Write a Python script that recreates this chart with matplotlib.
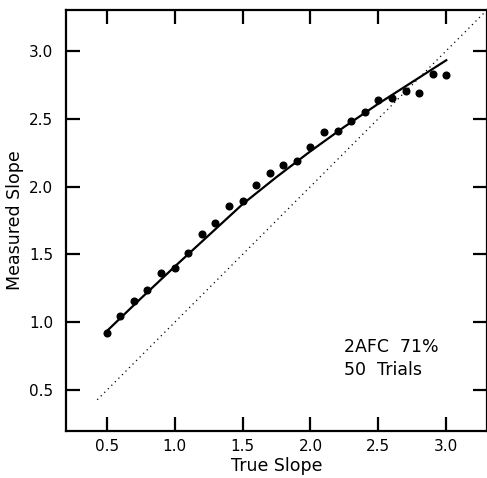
import numpy as np
import matplotlib.pyplot as plt

# measured points (true slope vs measured slope)
true_slope = [0.5, 0.6, 0.7, 0.8, 0.9, 1.0, 1.1, 1.2, 1.3, 1.4, 1.5, 1.6, 1.7,
              1.8, 1.9, 2.0, 2.1, 2.2, 2.3, 2.4, 2.5, 2.6, 2.7, 2.8, 2.9, 3.0]
measured_slope = [0.92, 1.05, 1.16, 1.24, 1.36, 1.40, 1.51, 1.65, 1.73, 1.86,
                  1.89, 2.01, 2.10, 2.16, 2.19, 2.29, 2.40, 2.41, 2.48, 2.55,
                  2.64, 2.65, 2.70, 2.69, 2.83, 2.82]

# fitted curve
fit_x = [0.5, 0.75, 1.0, 1.25, 1.5, 1.75, 2.0, 2.25, 2.5, 2.75, 3.0]
fit_y = [0.935, 1.175, 1.41, 1.64, 1.87, 2.07, 2.26, 2.44, 2.61, 2.77, 2.93]

# identity line
ident = [0.43, 3.3]

ticks = [0.5, 1.0, 1.5, 2.0, 2.5, 3.0]
tick_labels = ["0.5", "1.0", "1.5", "2.0", "2.5", "3.0"]

fig = plt.figure(figsize=(4.87, 4.78), dpi=100)
ax = fig.add_axes([66 / 487, 1 - 431 / 478, 421 / 487, 421 / 478])

ax.plot(ident, ident, color="black", linestyle=(0, (1, 3)), linewidth=0.9)
ax.plot(fit_x, fit_y, color="black", linewidth=1.6)
ax.plot(true_slope, measured_slope, "o", color="black", markersize=4.8)

ax.set_xlim(0.2, 3.3)
ax.set_ylim(0.2, 3.3)
ax.set_xticks(ticks)
ax.set_xticklabels(tick_labels)
ax.set_yticks(ticks)
ax.set_yticklabels(tick_labels)
ax.tick_params(direction="in", length=10, width=1.6, labelsize=11,
               top=True, right=True)
ax.tick_params(axis="y", pad=9)
ax.tick_params(axis="x", pad=6)

for s in ax.spines.values():
    s.set_linewidth(1.6)

ax.set_xlabel("True Slope", fontsize=12.5, labelpad=2)
ax.set_ylabel("Measured Slope", fontsize=12.5, labelpad=4)

ax.text(2.25, 0.82, "2AFC  71%", fontsize=12.5, va="center")
ax.text(2.25, 0.65, "50  Trials", fontsize=12.5, va="center")

fig.savefig("out.png", dpi=100)
